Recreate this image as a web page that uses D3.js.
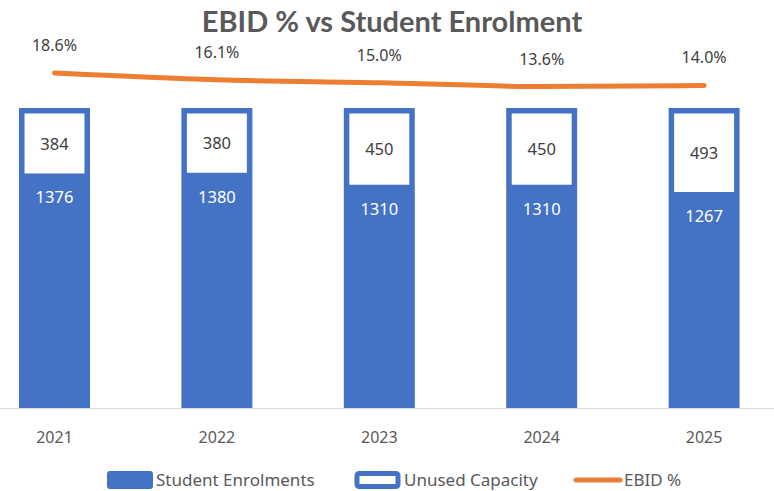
<!DOCTYPE html>
<html><head><meta charset="utf-8">
<script src="https://cdn.jsdelivr.net/npm/d3@7/dist/d3.min.js"></script>
<style>body{margin:0;background:#fff}svg{display:block}</style>
</head><body>
<script>
const years = ["2021","2022","2023","2024","2025"];
const enrolments = [1376,1380,1310,1310,1267];
const unused = [384,380,450,450,493];
const ebid = [18.6,16.1,15.0,13.6,14.0];
const ebidLabels = ["18.6%","16.1%","15.0%","13.6%","14.0%"];
const seriesNames = ["Student Enrolments","Unused Capacity","EBID %"];

const W=774,H=491;
const blue="#4472C4", orange="#ED7D31", txt="#404040";
const font="'Noto Sans', sans-serif";
const svg=d3.select("body").append("svg").attr("width",W).attr("height",H);

const x=d3.scaleBand().domain(years).range([-26.7,785.3]).paddingInner(0.563).paddingOuter(0.2815);
const y=d3.scaleLinear().domain([0,1760]).range([408,108]);
const y2=d3.scaleLinear().domain([13.6,18.6]).range([86.5,73]);

// title
svg.append("text").attr("x",392).attr("y",32).attr("text-anchor","middle")
 .attr("font-family","Lato, sans-serif").attr("font-weight","bold").attr("font-size",29)
 .attr("fill","#595959").text("EBID % vs Student Enrolment");

const bw=x.bandwidth(), b=5.5;
const g=svg.append("g");
years.forEach((yr,i)=>{
  const x0=x(yr), total=enrolments[i]+unused[i];
  g.append("rect").attr("x",x0).attr("y",y(total)).attr("width",bw).attr("height",y(0)-y(total)).attr("fill",blue);
  g.append("rect").attr("x",x0+b).attr("y",y(total)+b).attr("width",bw-2*b)
   .attr("height",y(enrolments[i])-y(total)-b).attr("fill","#fff");
  g.append("text").attr("x",x0+bw/2).attr("y",(y(total)+y(enrolments[i]))/2+9).attr("text-anchor","middle")
   .attr("font-family",font).attr("font-size",16.5).attr("fill",txt).text(unused[i]);
  g.append("text").attr("x",x0+bw/2).attr("y",y(enrolments[i])+30).attr("text-anchor","middle")
   .attr("font-family",font).attr("font-size",16.5).attr("fill","#fff").text(enrolments[i]);
  svg.append("text").attr("x",x0+bw/2).attr("y",443).attr("text-anchor","middle")
   .attr("font-family",font).attr("font-size",16).attr("fill","#595959").text(yr);
});

svg.append("line").attr("x1",0).attr("x2",W).attr("y1",408.5).attr("y2",408.5).attr("stroke","#d9d9d9").attr("stroke-width",1.2);

const line=d3.line().x((d,i)=>x(years[i])+bw/2).y(d=>y2(d)).curve(d3.curveMonotoneX);
svg.append("path").datum(ebid).attr("d",line).attr("fill","none").attr("stroke",orange).attr("stroke-width",5).attr("stroke-linecap","round");
ebid.forEach((v,i)=>{
  svg.append("text").attr("x",x(years[i])+bw/2).attr("y",y2(v)-22).attr("text-anchor","middle")
   .attr("font-family",font).attr("font-size",16).attr("fill",txt).text(ebidLabels[i]);
});

const ly=480;
svg.append("rect").attr("x",107).attr("y",ly-9).attr("width",46).attr("height",18).attr("rx",3).attr("fill",blue);
svg.append("text").attr("x",156).attr("y",ly+6).attr("font-family",font).attr("font-size",17).attr("fill","#595959").text(seriesNames[0]);
svg.append("rect").attr("x",357).attr("y",ly-6.5).attr("width",41).attr("height",13).attr("rx",2).attr("fill","#fff").attr("stroke",blue).attr("stroke-width",5);
svg.append("text").attr("x",404).attr("y",ly+6).attr("font-family",font).attr("font-size",17).attr("fill","#595959").text(seriesNames[1]);
svg.append("line").attr("x1",576).attr("x2",620).attr("y1",ly).attr("y2",ly).attr("stroke",orange).attr("stroke-width",5).attr("stroke-linecap","round");
svg.append("text").attr("x",624).attr("y",ly+6).attr("font-family",font).attr("font-size",17).attr("fill","#595959").text(seriesNames[2]);
</script>
</body></html>
